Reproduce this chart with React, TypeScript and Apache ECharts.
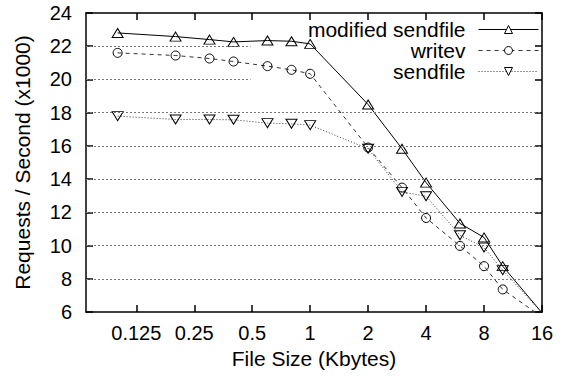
import React, { useEffect, useRef } from "react";
import * as echarts from "echarts";

const fileSizes = [0.1, 0.2, 0.3, 0.4, 0.6, 0.8, 1, 2, 3, 4, 6, 8, 10, 16];
const modifiedSendfile = [22.8, 22.58, 22.4, 22.26, 22.34, 22.3, 22.14, 18.49, 15.83, 13.79, 11.33, 10.49, 8.76, 5.95];
const writev = [21.6, 21.44, 21.26, 21.08, 20.8, 20.58, 20.34, 15.9, 13.49, 11.66, 9.98, 8.76, 7.36, 5.7];
const sendfile = [17.79, 17.59, 17.59, 17.57, 17.37, 17.33, 17.25, 15.83, 13.23, 12.97, 10.62, 9.88, 8.52, 5.95];

const xTickValues = [0.125, 0.25, 0.5, 1, 2, 4, 8, 16];
const xTickLabels = ["0.125", "0.25", "0.5", "1", "2", "4", "8", "16"];
const xMinSize = 0.0685;
const xMaxSize = 16;

const fullGridValues = [8, 10, 12, 14, 16, 18];
const shortGridValues = [20, 22];
const shortGridEnd = 0.49;

const FONT = "Liberation Sans, Arial, Helvetica, sans-serif";

export default function App() {
  const ref = useRef<HTMLDivElement>(null);

  useEffect(() => {
    if (!ref.current) return;
    const chart = echarts.init(ref.current, null, { renderer: "svg" });
    const lg = (v: number) => Math.log2(v);
    const xMin = lg(xMinSize);
    const xMax = lg(xMaxSize);
    const tickLogs = xTickValues.map(lg);
    const fmt = (v: number) => {
      const i = tickLogs.findIndex((t) => Math.abs(t - v) < 1e-6);
      return i >= 0 ? xTickLabels[i] : "";
    };
    const toPts = (arr: number[]) => fileSizes.map((s, i) => [lg(s), arr[i]]);

    const gridLines: any[] = [];
    fullGridValues.forEach((g) => gridLines.push([{ coord: [xMin, g] }, { coord: [xMax, g] }]));
    shortGridValues.forEach((g) => gridLines.push([{ coord: [xMin, g] }, { coord: [lg(shortGridEnd), g] }]));

    const tickStyle = { show: true, inside: true, length: 7, lineStyle: { color: "#000", width: 1.5 } };
    const axisLine = { show: true, onZero: false, lineStyle: { color: "#000", width: 1.5 } };

    const hollow = { color: "rgba(255,255,255,0)", borderColor: "#000", borderWidth: 1 };

    chart.setOption({
      animation: false,
      backgroundColor: "#fff",
      textStyle: { fontFamily: FONT },
      grid: { left: 86, right: 23, top: 13, bottom: 64 },
      legend: {
        data: ["modified sendfile", "writev", "sendfile"],
        orient: "vertical",
        align: "right",
        right: 26,
        top: 19,
        padding: 0,
        itemGap: 0,
        itemWidth: 60,
        itemHeight: 10,
        lineStyle: { width: 1 },
        itemStyle: { borderWidth: 1, color: "#fff", borderColor: "#000" },
        textStyle: { fontSize: 21, fontFamily: FONT, color: "#000", lineHeight: 20, padding: [0, 8, 0, 0] },
      },
      xAxis: [
        {
          type: "value",
          min: xMin,
          max: xMax,
          position: "bottom",
          name: "File Size (Kbytes)",
          nameLocation: "middle",
          nameGap: 35,
          nameTextStyle: { fontSize: 21, fontFamily: FONT, color: "#000" },
          axisLine,
          axisTick: { ...tickStyle, customValues: tickLogs },
          axisLabel: { customValues: tickLogs, formatter: fmt, fontSize: 20, fontFamily: FONT, color: "#000", margin: 11 },
          splitLine: { show: false },
        },
        {
          type: "value",
          min: xMin,
          max: xMax,
          position: "top",
          axisLine,
          axisTick: { ...tickStyle, customValues: tickLogs },
          axisLabel: { show: false },
          splitLine: { show: false },
        },
      ],
      yAxis: [
        {
          type: "value",
          min: 6,
          max: 24,
          interval: 2,
          position: "left",
          name: "Requests / Second (x1000)",
          nameLocation: "middle",
          nameGap: 53,
          nameTextStyle: { fontSize: 21, fontFamily: FONT, color: "#000" },
          axisLine,
          axisTick: tickStyle,
          axisLabel: { fontSize: 20, fontFamily: FONT, color: "#000", margin: 14 },
          splitLine: { show: false },
        },
        {
          type: "value",
          min: 6,
          max: 24,
          interval: 2,
          position: "right",
          axisLine,
          axisTick: tickStyle,
          axisLabel: { show: false },
          splitLine: { show: false },
        },
      ],
      series: [
        {
          name: "grid",
          type: "line",
          data: [],
          z: 1,
          silent: true,
          markLine: {
            silent: true,
            symbol: "none",
            label: { show: false },
            lineStyle: { color: "#777", width: 1, type: [2, 2] },
            data: gridLines,
          },
        },
        {
          name: "modified sendfile",
          type: "line",
          data: toPts(modifiedSendfile),
          z: 3,
          clip: true,
          symbol: "triangle",
          symbolSize: [11, 9],
          lineStyle: { color: "#000", width: 1, type: "solid" },
          itemStyle: hollow,
        },
        {
          name: "writev",
          type: "line",
          data: toPts(writev),
          z: 3,
          clip: true,
          symbol: "circle",
          symbolSize: 9,
          lineStyle: { color: "#333", width: 1, type: [4, 4] },
          itemStyle: hollow,
        },
        {
          name: "sendfile",
          type: "line",
          data: toPts(sendfile),
          z: 3,
          clip: true,
          symbol: "triangle",
          symbolRotate: 180,
          symbolSize: [11, 9],
          lineStyle: { color: "#333", width: 1, type: [1, 2] },
          itemStyle: hollow,
        },
      ],
    });
    return () => chart.dispose();
  }, []);

  return <div ref={ref} style={{ position: "fixed", left: 0, top: 0, width: 565, height: 376 }} />;
}
